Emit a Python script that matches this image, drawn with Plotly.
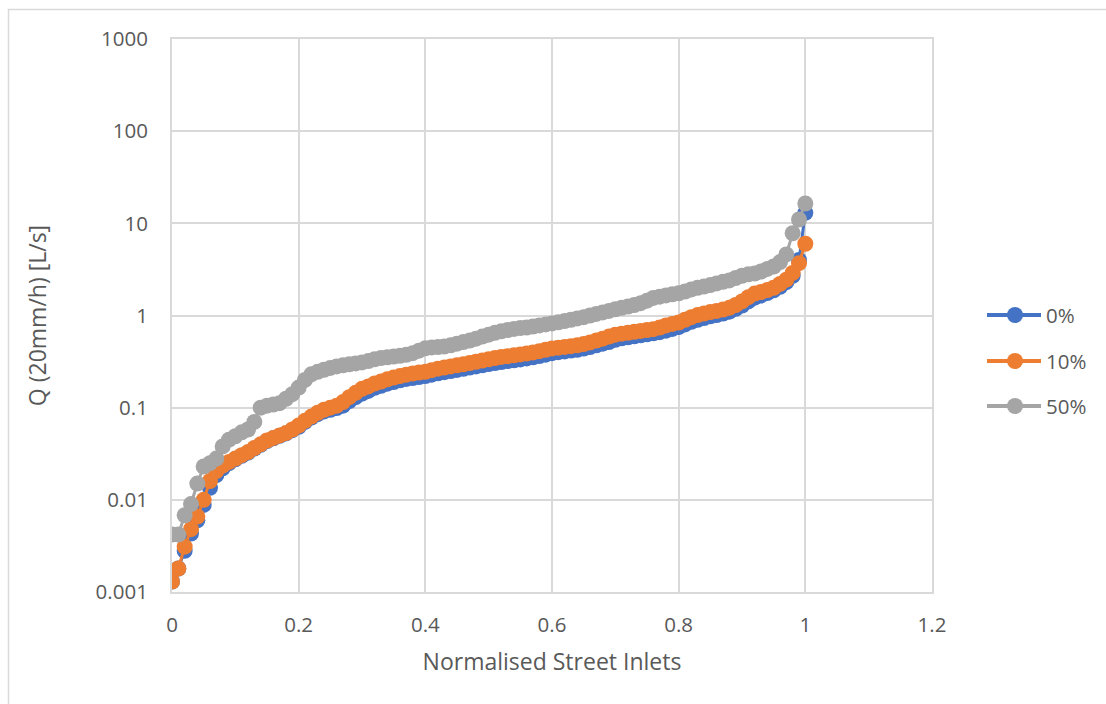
import plotly.graph_objects as go

# Normalised position of each street inlet (rank / total)
x_norm = [i / 100 for i in range(101)]

# Peak inflow Q for a 20 mm/h storm [L/s], sorted ascending, per blockage scenario
q_0pct = [
    0.0013, 0.0018, 0.0028, 0.0043, 0.0060, 0.0088, 0.0135, 0.0185, 0.0220, 0.0250,
    0.0275, 0.0300, 0.0325, 0.0360, 0.0395, 0.0435, 0.0465, 0.0495, 0.0525, 0.0570,
    0.0620, 0.0700, 0.0780, 0.0850, 0.0910, 0.0950, 0.0990, 0.1050, 0.1180, 0.1300,
    0.1420, 0.1520, 0.1640, 0.1730, 0.1820, 0.1900, 0.1980, 0.2050, 0.2100, 0.2150,
    0.2200, 0.2280, 0.2360, 0.2430, 0.2500, 0.2570, 0.2640, 0.2720, 0.2800, 0.2880,
    0.2970, 0.3050, 0.3130, 0.3200, 0.3270, 0.3340, 0.3420, 0.3520, 0.3630, 0.3760,
    0.3900, 0.4000, 0.4080, 0.4160, 0.4250, 0.4380, 0.4550, 0.4750, 0.4950, 0.5150,
    0.5450, 0.5650, 0.5800, 0.5950, 0.6100, 0.6250, 0.6400, 0.6600, 0.6850, 0.7150,
    0.7500, 0.8000, 0.8550, 0.9000, 0.9400, 0.9800, 1.0100, 1.0500, 1.1000, 1.1800,
    1.2800, 1.4200, 1.5600, 1.6500, 1.7500, 1.8800, 2.0500, 2.3000, 2.7000, 4.0000,
    13.000,
]
q_10pct = [
    0.0013, 0.0018, 0.0031, 0.0048, 0.0066, 0.0100, 0.0160, 0.0205, 0.0235, 0.0258,
    0.0280, 0.0305, 0.0330, 0.0365, 0.0400, 0.0440, 0.0470, 0.0500, 0.0530, 0.0580,
    0.0640, 0.0720, 0.0800, 0.0880, 0.0950, 0.1000, 0.1050, 0.1150, 0.1300, 0.1450,
    0.1600, 0.1700, 0.1830, 0.1920, 0.2030, 0.2120, 0.2200, 0.2280, 0.2350, 0.2400,
    0.2450, 0.2550, 0.2650, 0.2720, 0.2800, 0.2880, 0.2950, 0.3050, 0.3150, 0.3250,
    0.3350, 0.3450, 0.3550, 0.3620, 0.3700, 0.3780, 0.3870, 0.3980, 0.4100, 0.4250,
    0.4390, 0.4480, 0.4560, 0.4650, 0.4750, 0.4900, 0.5100, 0.5350, 0.5600, 0.5900,
    0.6200, 0.6350, 0.6500, 0.6650, 0.6800, 0.6950, 0.7100, 0.7400, 0.7800, 0.8100,
    0.8400, 0.9000, 0.9600, 1.0100, 1.0500, 1.0900, 1.1200, 1.1600, 1.2100, 1.3000,
    1.4200, 1.5800, 1.7300, 1.8000, 1.8900, 2.0000, 2.2000, 2.4500, 2.9000, 3.7000,
    6.0000,
]
q_50pct = [
    0.0042, 0.0042, 0.0068, 0.0090, 0.0150, 0.0230, 0.0250, 0.0280, 0.0380, 0.0450,
    0.0490, 0.0540, 0.0580, 0.0700, 0.1000, 0.1050, 0.1080, 0.1120, 0.1250, 0.1400,
    0.1650, 0.2000, 0.2300, 0.2450, 0.2580, 0.2700, 0.2800, 0.2880, 0.2950, 0.3020,
    0.3100, 0.3200, 0.3350, 0.3450, 0.3520, 0.3580, 0.3650, 0.3750, 0.3900, 0.4150,
    0.4400, 0.4500, 0.4550, 0.4600, 0.4750, 0.4950, 0.5150, 0.5350, 0.5600, 0.5900,
    0.6200, 0.6500, 0.6750, 0.6950, 0.7150, 0.7300, 0.7400, 0.7600, 0.7800, 0.8000,
    0.8200, 0.8450, 0.8700, 0.9000, 0.9300, 0.9600, 1.0000, 1.0400, 1.0800, 1.1200,
    1.1700, 1.2100, 1.2500, 1.3000, 1.3600, 1.4500, 1.5500, 1.6000, 1.6500, 1.7000,
    1.7400, 1.8200, 1.9200, 2.0000, 2.0600, 2.1400, 2.2300, 2.3200, 2.4000, 2.5500,
    2.7000, 2.8000, 2.8500, 3.0000, 3.2000, 3.4000, 3.8000, 4.6000, 7.8000, 11.000,
    16.400,
]

series_names = ["0%", "10%", "50%"]
series_values = [q_0pct, q_10pct, q_50pct]
series_colors = ["#4472C4", "#ED7D31", "#A5A5A5"]

y_tickvals = [0.001, 0.01, 0.1, 1, 10, 100, 1000]
y_ticktext = ["0.001", "0.01", "0.1", "1", "10", "100", "1000"]

FONT = "Open Sans"
TEXT = "#595959"
GRID = "#D9D9D9"
TICK_SIZE = 20.5
TITLE_SIZE = 23

W, H = 1106, 704
L, R, T, B = 172, 174, 39, 112
PW, PH = W - L - R, H - T - B


def px_x(px):
    return (px - L) / PW


def px_y(py):
    return (H - B - py) / PH


fig = go.Figure()
for name, vals, col in zip(series_names, series_values, series_colors):
    fig.add_trace(go.Scatter(
        x=x_norm, y=vals, name=name, mode="lines+markers",
        line=dict(color=col, width=3),
        marker=dict(color=col, size=16, line=dict(width=0)),
        showlegend=False,
    ))

# Legend drawn on the right: line segment, round marker and label per series
shapes = []
annotations = []
legend_rows = [315, 361, 406]
for name, col, ry in zip(series_names, series_colors, legend_rows):
    shapes.append(dict(type="line", xref="paper", yref="paper",
                       x0=px_x(987), x1=px_x(1041), y0=px_y(ry), y1=px_y(ry),
                       line=dict(color=col, width=4)))
    shapes.append(dict(type="circle", xref="paper", yref="paper",
                       xsizemode="pixel", ysizemode="pixel",
                       xanchor=px_x(1015), yanchor=px_y(ry),
                       x0=-8, x1=8, y0=-8, y1=8,
                       fillcolor=col, line=dict(width=0)))
    annotations.append(dict(text=name, xref="paper", yref="paper",
                            x=px_x(1044), y=px_y(ry), xanchor="left", yanchor="middle",
                            showarrow=False, font=dict(family=FONT, size=TICK_SIZE, color=TEXT)))

# Chart area frame
shapes.append(dict(type="rect", xref="paper", yref="paper", layer="below",
                   x0=px_x(8.5), x1=px_x(1120), y0=px_y(720), y1=px_y(9.5),
                   line=dict(color=GRID, width=1.5), fillcolor="rgba(0,0,0,0)"))

fig.update_layout(
    width=W, height=H,
    margin=dict(l=L, r=R, t=T, b=B, autoexpand=False),
    paper_bgcolor="white", plot_bgcolor="white",
    font=dict(family=FONT, size=TICK_SIZE, color=TEXT),
    shapes=shapes, annotations=annotations,
    xaxis=dict(
        range=[0, 1.2], dtick=0.2, tick0=0,
        showgrid=True, gridcolor=GRID, gridwidth=2,
        showline=True, linecolor=GRID, linewidth=2, mirror=True,
        zeroline=False,
        ticks="outside", ticklen=13, tickcolor="rgba(0,0,0,0)",
        tickfont=dict(family=FONT, size=TICK_SIZE, color=TEXT),
        title=dict(text="Normalised Street Inlets", standoff=17,
                   font=dict(family=FONT, size=TITLE_SIZE, color=TEXT)),
    ),
    yaxis=dict(
        type="log", range=[-3, 3],
        tickvals=y_tickvals, ticktext=y_ticktext,
        showgrid=True, gridcolor=GRID, gridwidth=2,
        showline=True, linecolor=GRID, linewidth=2, mirror=True,
        zeroline=False,
        ticks="outside", ticklen=18, tickcolor="rgba(0,0,0,0)",
        tickfont=dict(family=FONT, size=TICK_SIZE, color=TEXT),
        title=dict(text="Q (20mm/h) [L/s]", standoff=43,
                   font=dict(family=FONT, size=TITLE_SIZE, color=TEXT)),
    ),
)

fig.write_html("out.html")
